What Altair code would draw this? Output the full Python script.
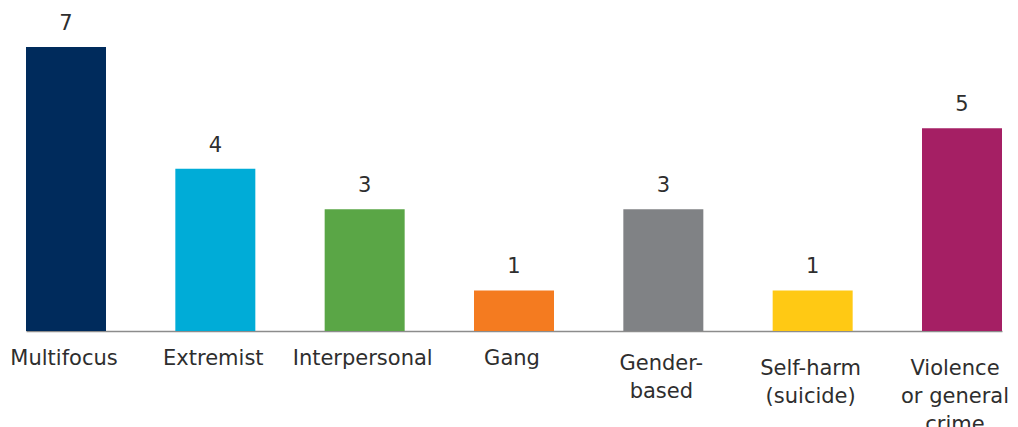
import altair as alt
import pandas as pd

categories = ["Multifocus", "Extremist", "Interpersonal", "Gang",
              "Gender-based", "Self-harm (suicide)", "Violence or general crime"]
values = [7, 4, 3, 1, 3, 1, 5]
colors = ["#002B5C", "#00ACD7", "#5AA646", "#F47B20", "#808285", "#FFC914", "#A51F64"]

NB = "\u00a0"
# axis label lines (short lines padded so the lines of a label read left-aligned)
label_lines = {
    "Gender-based": ["Gender-", "based" + NB * 3],
    "Self-harm (suicide)": ["Self-harm", "(suicide)" + NB * 2],
    "Violence or general crime": ["Violence" + NB * 3, "or general", "crime" + NB * 7],
}

df = pd.DataFrame({"category": categories, "value": values})

FONT = "DejaVu Sans"
TXT = "#2e2e2e"
FS = 21

expr_parts = []
for k, lines in label_lines.items():
    expr_parts.append(f"datum.label == '{k}' ? [" + ", ".join("'" + l + "'" for l in lines) + "]")
label_expr = " : ".join(expr_parts) + " : datum.label"

x = alt.X("category:N", sort=categories, title=None,
          scale=alt.Scale(paddingInner=0.4643, paddingOuter=0),
          axis=alt.Axis(labelAngle=0, ticks=False, domainColor="#8c8c8c", domainWidth=1.6,
                        labelFont=FONT, labelFontSize=FS, labelColor=TXT,
                        labelPadding={"condition": [
                            {"test": "datum.label == 'Gender-based'", "value": 21},
                            {"test": "datum.label == 'Self-harm (suicide)' || datum.label == 'Violence or general crime'", "value": 26},
                        ], "value": 16},
                        labelOffset={"condition": [
                            {"test": "datum.label == 'Violence or general crime'", "value": -7},
                        ], "value": -2},
                        labelLineHeight=28, labelBaseline="top",
                        labelExpr=label_expr,
                        labelOverlap=False, labelLimit=0))
y = alt.Y("value:Q", title=None, scale=alt.Scale(domain=[0, 7], nice=False),
          axis=None)

bars = alt.Chart(df).mark_bar().encode(
    x=x, y=y,
    color=alt.Color("category:N", scale=alt.Scale(domain=categories, range=colors), legend=None),
)
texts = alt.Chart(df).mark_text(font=FONT, fontSize=FS, color=TXT, baseline="alphabetic", dy=-17).encode(
    x=alt.X("category:N", sort=categories), y="value:Q", text="value:Q"
)

chart = (bars + texts).properties(
    width=976, height=284,
    autosize=alt.AutoSizeParams(type="none"),
    padding={"left": 18, "top": 39, "right": 8, "bottom": 96},
).configure_view(stroke=None)

chart.save("out.html", embed_options={"renderer": "svg", "actions": False})
